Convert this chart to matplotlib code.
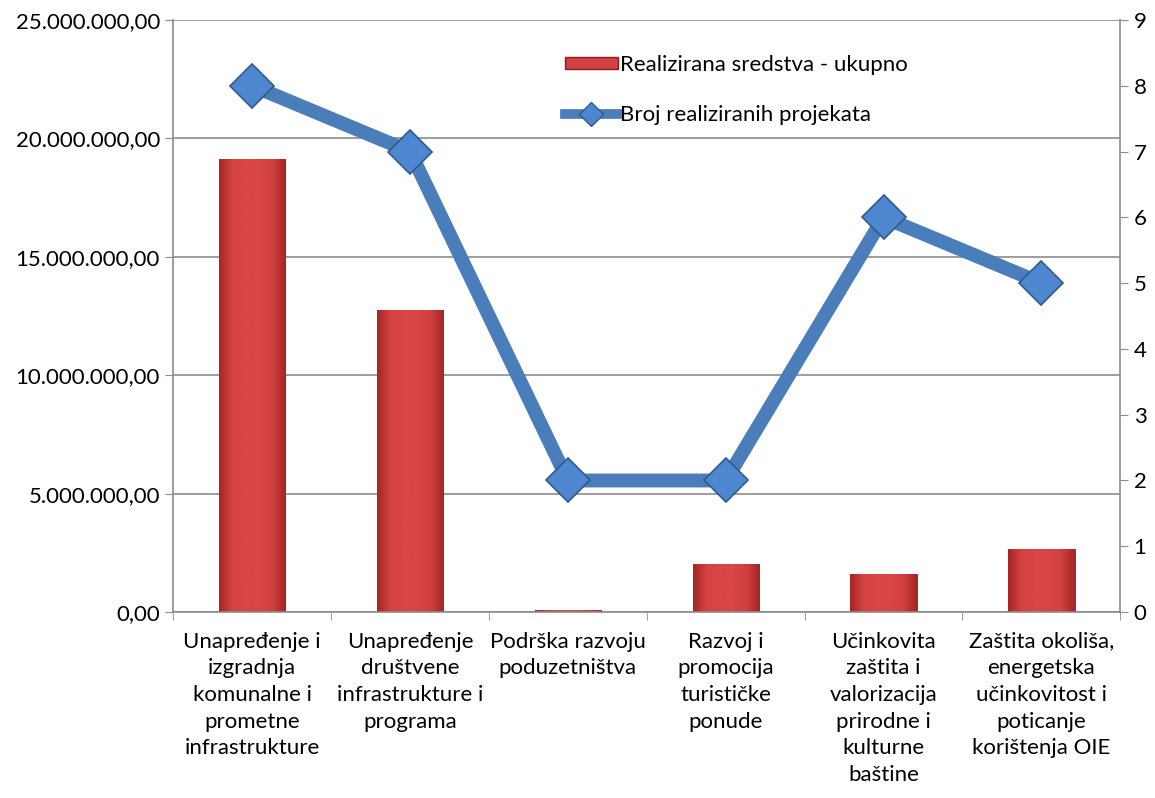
import numpy as np
import matplotlib.pyplot as plt
from matplotlib.ticker import FuncFormatter, MultipleLocator
from matplotlib.colors import LinearSegmentedColormap

plt.rcParams['font.family'] = ['Lato', 'DejaVu Sans']

categories = [
    "Unapređenje i\nizgradnja\nkomunalne i\nprometne\ninfrastrukture",
    "Unapređenje\ndruštvene\ninfrastrukture i\nprograma",
    "Podrška razvoju\npoduzetništva",
    "Razvoj i\npromocija\nturističke\nponude",
    "Učinkovita\nzaštita i\nvalorizacija\nprirodne i\nkulturne\nbaštine",
    "Zaštita okoliša,\nenergetska\nučinkovitost i\npoticanje\nkorištenja OIE",
]
sredstva = [19150000, 12750000, 80000, 2050000, 1620000, 2680000]
projekti = [8, 7, 2, 2, 6, 5]

def fmt(v, pos):
    s = "{:,.2f}".format(v)
    return s.replace(",", "X").replace(".", ",").replace("X", ".")

fig = plt.figure(figsize=(11.55, 7.98), dpi=100)
ax = fig.add_axes([0.15, 0.233, 0.82, 0.742])
x = np.arange(len(categories))

bars = ax.bar(x, sredstva, width=0.42, color="#D04040", edgecolor="#8E1E1E", linewidth=0.6, zorder=2)
grad = LinearSegmentedColormap.from_list("g", ["#A52626", "#D44242", "#DA4545", "#DA4545", "#D04040", "#A52626"])
for b in bars:
    if b.get_height() > 0:
        img = ax.imshow(np.linspace(0, 1, 100).reshape(1, -1), cmap=grad, aspect="auto",
                        extent=[b.get_x(), b.get_x() + b.get_width(), 0, b.get_height()], zorder=2)
        img.set_clip_path(b)

ax.set_xlim(-0.5, len(categories) - 0.5)
ax.set_ylim(0, 25000000)
ax.yaxis.set_major_locator(MultipleLocator(5000000))
ax.yaxis.set_major_formatter(FuncFormatter(fmt))
ax.grid(axis="y", color="#8C8C8C", linewidth=1.2, zorder=0)
ax.set_xticks(x)
ax.set_xticklabels(categories, fontsize=16, linespacing=1.42)
ax.set_xticks(np.arange(-0.5, len(categories), 1), minor=True)
ax.tick_params(axis="x", which="major", length=0, pad=14)
ax.tick_params(axis="x", which="minor", length=6, color="#8C8C8C")
ax.tick_params(axis="y", labelsize=16, length=6, color="#8C8C8C")
for s in ["top", "right"]:
    ax.spines[s].set_visible(False)
for s in ["left", "bottom"]:
    ax.spines[s].set_color("#8C8C8C")
    ax.spines[s].set_linewidth(1.2)

ax2 = ax.twinx()
ax2.plot(x, projekti, color="#4A7EBB", linewidth=10, marker="D", markersize=22,
         markerfacecolor="#4F86D0", markeredgecolor="#2E5A8E", markeredgewidth=1.2, zorder=3)
ax2.set_ylim(0, 9)
ax2.yaxis.set_major_locator(MultipleLocator(1))
ax2.tick_params(axis="y", labelsize=16, length=6, color="#8C8C8C")
for s in ["top", "left", "bottom"]:
    ax2.spines[s].set_visible(False)
ax2.spines["right"].set_color("#8C8C8C")
ax2.spines["right"].set_linewidth(1.2)

h1 = plt.Rectangle((0, 0), 1, 1, facecolor="#D04040", edgecolor="#8E1E1E")
h2 = plt.Line2D([], [], color="#4A7EBB", linewidth=7, marker="D", markersize=12,
                markerfacecolor="#4F86D0", markeredgecolor="#2E5A8E")
ax2.legend([h1, h2], ["Realizirana sredstva - ukupno", "Broj realiziranih projekata"],
           loc="upper left", bbox_to_anchor=(0.392, 0.975), frameon=False, fontsize=16,
           handlelength=2.4, handleheight=0.5, handletextpad=0.1, labelspacing=1.35)

fig.savefig("out.png", dpi=100)
